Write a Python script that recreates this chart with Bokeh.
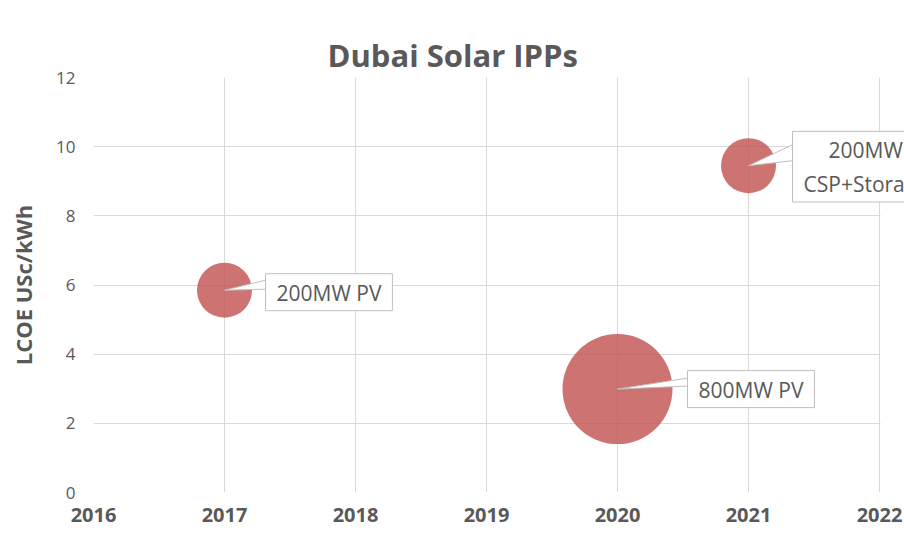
import math
from bokeh.plotting import figure
from bokeh.models import Label, Range1d, FixedTicker, LinearAxis
from bokeh.embed import file_html
from bokeh.resources import INLINE

# ---- data ----
years = [2017, 2020, 2021]
lcoe = [5.85, 2.99, 9.45]
capacity_mw = [200, 800, 200]
point_labels = ["200MW PV", "800MW PV", "200MW\nCSP+Storage"]
x_ticks = [2016, 2017, 2018, 2019, 2020, 2021, 2022]
y_ticks = [0, 2, 4, 6, 8, 10, 12]
title_text = "Dubai Solar IPPs"
y_title = "LCOE USc/kWh"

# ---- style / layout ----
W, H = 904, 535
BL, BT, BB = 93, 77, 43
AXIS_RIGHT = 879            # pixel where the last x tick sits
FW = W - BL                 # frame runs to the right edge so callouts can overflow
FH = H - BT - BB
GRAY = "#595959"
GRID = "#d9d9d9"
BUBBLE = "#C0504D"
FONT = "Open Sans"
px_per_sqrt_mw = 55 / math.sqrt(200)

pxx = (AXIS_RIGHT - BL) / (x_ticks[-1] - x_ticks[0])
pxy = FH / (y_ticks[-1] - y_ticks[0])
x_end = x_ticks[-1] + (W - AXIS_RIGHT) / pxx

p = figure(width=W, height=H, output_backend="svg", toolbar_location=None,
           x_range=Range1d(x_ticks[0], x_end), y_range=Range1d(y_ticks[0], y_ticks[-1]),
           min_border_left=BL, min_border_right=0, min_border_top=BT, min_border_bottom=BB)
p.outline_line_color = None
p.background_fill_color = "white"
p.border_fill_color = "white"

p.title.text = title_text
p.title.align = "left"
p.title.offset = 234
p.title.standoff = 0
p.title.vertical_align = "top"
p.title.text_font = FONT
p.title.text_font_style = "bold"
p.title.text_font_size = "31px"
p.title.text_color = GRAY

xax = p.below[0]
yax = p.left[0]
for ax in (xax, yax):
    ax.axis_line_color = None
    ax.major_tick_line_color = None
    ax.minor_tick_line_color = None
    ax.major_tick_out = 0
    ax.major_tick_in = 0
    ax.minor_tick_out = 0
    ax.minor_tick_in = 0
    ax.major_label_text_color = GRAY
    ax.major_label_text_font = FONT

xax.ticker = FixedTicker(ticks=x_ticks)
yax.ticker = FixedTicker(ticks=y_ticks)
xax.major_label_text_font_style = "bold"
xax.major_label_text_font_size = "20px"
xax.major_label_standoff = 15
yax.major_label_text_font_size = "17px"
yax.major_label_standoff = 18
yax.axis_label = y_title
yax.axis_label_text_font = FONT
yax.axis_label_text_font_style = "bold"
yax.axis_label_text_font_size = "22px"
yax.axis_label_text_color = GRAY
yax.axis_label_standoff = 15

# invisible spacer (no ticks) between the title and the plot area
spacer = LinearAxis(ticker=FixedTicker(ticks=[]), axis_line_color=None,
                    major_tick_line_color="white", minor_tick_line_color=None,
                    major_tick_out=33, major_tick_in=0, minor_tick_out=0, minor_tick_in=0,
                    major_label_standoff=0)
p.add_layout(spacer, "above")

p.xgrid.ticker = FixedTicker(ticks=x_ticks)
p.ygrid.ticker = FixedTicker(ticks=y_ticks)
for g in (p.xgrid[0], p.ygrid[0]):
    g.grid_line_color = GRID
    g.grid_line_width = 1

# white mask right of the last x tick (hides the grid beyond the axis end)
p.quad(left=[x_ticks[-1] + 1 / pxx], right=[x_end], bottom=[y_ticks[0] - 1], top=[y_ticks[-1] + 1],
       fill_color="white", line_color=None)

sizes = [px_per_sqrt_mw * math.sqrt(c) for c in capacity_mw]
p.scatter(years, lcoe, size=sizes, fill_color=BUBBLE, fill_alpha=0.8, line_color=None)

# callouts: box left offset (px), box centre offset (px), wedge base (px up from point)
callout_dx = [41, 70, 44]
callout_dy = [-2, 0, -1]
wedge_base = [(1, 10), (3, 11), (5, 21)]
xs, ys = [], []
for x, y, dx, (b1, b2) in zip(years, lcoe, callout_dx, wedge_base):
    xs.append([x, x + dx / pxx, x + dx / pxx])
    ys.append([y, y + b1 / pxy, y + b2 / pxy])
p.patches(xs, ys, fill_color="white", line_color="#bfbfbf", line_width=1)

for x, y, t, dx, dy in zip(years, lcoe, point_labels, callout_dx, callout_dy):
    p.add_layout(Label(x=x, y=y, text=t, x_offset=dx, y_offset=dy,
                       anchor="center_left", text_align="center", text_baseline="middle",
                       text_font=FONT, text_font_size="21px", text_color=GRAY,
                       text_line_height=1.2,
                       background_fill_color="white", border_line_color="#bfbfbf",
                       border_line_width=1,
                       padding=dict(left=11, right=11, top=5, bottom=4)))

open("out.html", "w").write(file_html(p, INLINE))
